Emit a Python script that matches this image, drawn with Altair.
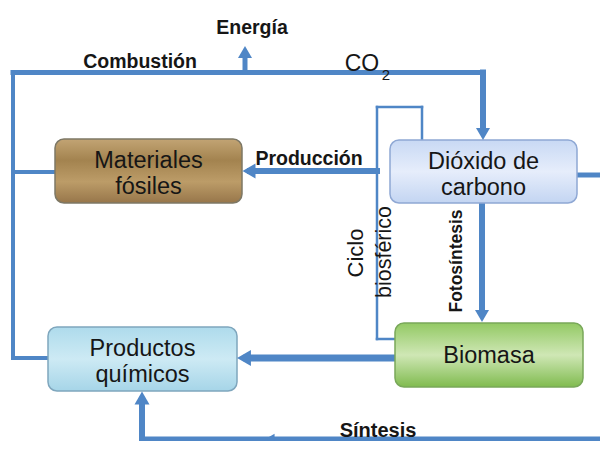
import altair as alt
import pandas as pd

# ---- diagram content (node labels, edge labels) ----
node_names = ["Materiales\nfósiles", "Dióxido de\ncarbono", "Biomasa", "Productos\nquímicos"]
# node boxes in reference pixel coordinates (left, right, top, bottom)
node_x0 = [55, 390, 395, 48]
node_x1 = [242, 577, 583, 237]
node_y0 = [139, 140, 323, 327]
node_y1 = [203, 203, 387, 391]
node_fill_stops = [
    ["#c2a474", "#a3834f", "#bc9c68", "#97764a"],
    ["#c8d9f4", "#e6edfb", "#c3d5f2"],
    ["#93c964", "#cfe7b5", "#80bb4f"],
    ["#aedbec", "#cdeaf4", "#a6d5e8"],
]
node_stroke = ["#7d7866", "#8fa8d4", "#79a85a", "#7fa6bd"]

# connector segments (x, y, x2, y2, stroke width)
seg_x = [13, 245, 483, 13, 13, 13, 377, 577, 482, 395, 600, 142, 377, 377, 422, 377]
seg_y = [72.5, 72.5, 72.5, 72.5, 172, 358, 171, 175, 203, 358, 439, 439, 107, 107, 107, 339]
seg_x2 = [483, 245, 483, 13, 55, 48, 250, 600, 482, 247, 142, 142, 377, 422, 422, 395]
seg_y2 = [72.5, 56, 130, 358, 172, 358, 171, 175, 312, 358, 439, 400, 339, 107, 140, 339]
seg_w = [5, 5, 6, 4, 4, 4, 6, 5, 6, 7, 5, 6, 2.5, 2.5, 2.5, 2.5]

# arrow heads
head_x = [245, 483, 249, 482, 244, 142, 270]
head_y = [52, 134, 171, 316, 358, 398, 439]
head_shape = ["triangle-up", "triangle-down", "triangle-left", "triangle-down",
              "triangle-left", "triangle-up", "triangle-left"]
head_size = [196, 196, 225, 196, 256, 225, 110]

# edge labels
lab_text = ["Energía", "Combustión", "Producción", "Síntesis"]
lab_x = [252, 140, 309, 378]
lab_y = [28, 62, 159, 431]
lab_size = [19.5, 19.5, 19.5, 20]

rot_text = ["Ciclo", "biosférico", "Fotosíntesis"]
rot_x = [356, 385, 457]
rot_y = [253, 252, 261]
rot_size = [22, 21.5, 17.5]
rot_weight = ["normal", "normal", "bold"]

co_text = ["CO", "2"]
co_x = [362, 386]
co_y = [64, 75]
co_size = [23, 15]

LINE = "#4f86c6"
FONT = "Liberation Sans"
TXT = "#161616"
BOX_FS = 23.5
BOX_LH = 26

xs = alt.Scale(domain=[8, 600], nice=False, zero=False)
ys = alt.Scale(domain=[8, 441], nice=False, zero=False, reverse=True)
X = lambda f: alt.X(f, type="quantitative", scale=xs, axis=None)
Y = lambda f: alt.Y(f, type="quantitative", scale=ys, axis=None)

seg_df = pd.DataFrame({"x": seg_x, "y": seg_y, "x2": seg_x2, "y2": seg_y2, "w": seg_w})
segs = alt.Chart(seg_df).mark_rule(color=LINE, strokeCap="square").encode(
    x=X("x"), y=Y("y"), x2="x2", y2="y2",
    strokeWidth=alt.StrokeWidth("w:Q", scale=None),
)

layers = [segs]
for i, name in enumerate(node_names):
    stops = node_fill_stops[i]
    n = len(stops)
    grad = alt.LinearGradient(
        gradient="linear",
        stops=[alt.GradientStop(offset=k / (n - 1), color=c) for k, c in enumerate(stops)],
        x1=0, x2=0, y1=0, y2=1,
    )
    df = pd.DataFrame({"x0": [node_x0[i]], "x1": [node_x1[i]], "y0": [node_y0[i]], "y1": [node_y1[i]]})
    layers.append(
        alt.Chart(df).mark_rect(cornerRadius=9, fill=grad, stroke=node_stroke[i], strokeWidth=1.5).encode(
            x=X("x0"), x2="x1", y=Y("y0"), y2="y1"
        )
    )

node_df = pd.DataFrame({
    "name": node_names,
    "cx": [(a + b) / 2 for a, b in zip(node_x0, node_x1)],
    "cy": [(a + b) / 2 + 1 + nm.count("\n") * (2 - BOX_LH / 2)
           for a, b, nm in zip(node_y0, node_y1, node_names)],
})
layers.append(
    alt.Chart(node_df).mark_text(font=FONT, fontSize=BOX_FS, lineBreak="\n", lineHeight=BOX_LH,
                                 baseline="middle", align="center", color=TXT).encode(
        x=X("cx"), y=Y("cy"), text="name:N"
    )
)

head_df = pd.DataFrame({"x": head_x, "y": head_y, "shape": head_shape, "size": head_size})
layers.append(
    alt.Chart(head_df).mark_point(filled=True, opacity=1, color=LINE).encode(
        x=X("x"), y=Y("y"),
        shape=alt.Shape("shape:N", scale=None),
        size=alt.Size("size:Q", scale=None),
    )
)

lab_df = pd.DataFrame({"t": lab_text, "x": lab_x, "y": lab_y, "s": lab_size})
layers.append(
    alt.Chart(lab_df).mark_text(font=FONT, fontWeight="bold", baseline="middle", align="center", color=TXT).encode(
        x=X("x"), y=Y("y"), text="t:N",
        size=alt.Size("s:Q", scale=None),
    )
)

for w in ["normal", "bold"]:
    idx = [i for i, ww in enumerate(rot_weight) if ww == w]
    rot_df = pd.DataFrame({
        "t": [rot_text[i] for i in idx],
        "x": [rot_x[i] for i in idx],
        "y": [rot_y[i] for i in idx],
        "s": [rot_size[i] for i in idx],
    })
    layers.append(
        alt.Chart(rot_df).mark_text(font=FONT, fontWeight=w, angle=270, baseline="middle",
                                    align="center", color=TXT).encode(
            x=X("x"), y=Y("y"), text="t:N",
            size=alt.Size("s:Q", scale=None),
        )
    )

co_df = pd.DataFrame({"t": co_text, "x": co_x, "y": co_y, "s": co_size})
layers.append(
    alt.Chart(co_df).mark_text(font=FONT, baseline="middle", align="center", color=TXT).encode(
        x=X("x"), y=Y("y"), text="t:N",
        size=alt.Size("s:Q", scale=None),
    )
)

chart = alt.layer(*layers).properties(
    width=592, height=433,
    autosize=alt.AutoSizeParams(type="none"),
    padding=0,
    background="white",
).configure_view(stroke=None)

chart.save("out.html", embed_options={"renderer": "svg", "actions": False})
